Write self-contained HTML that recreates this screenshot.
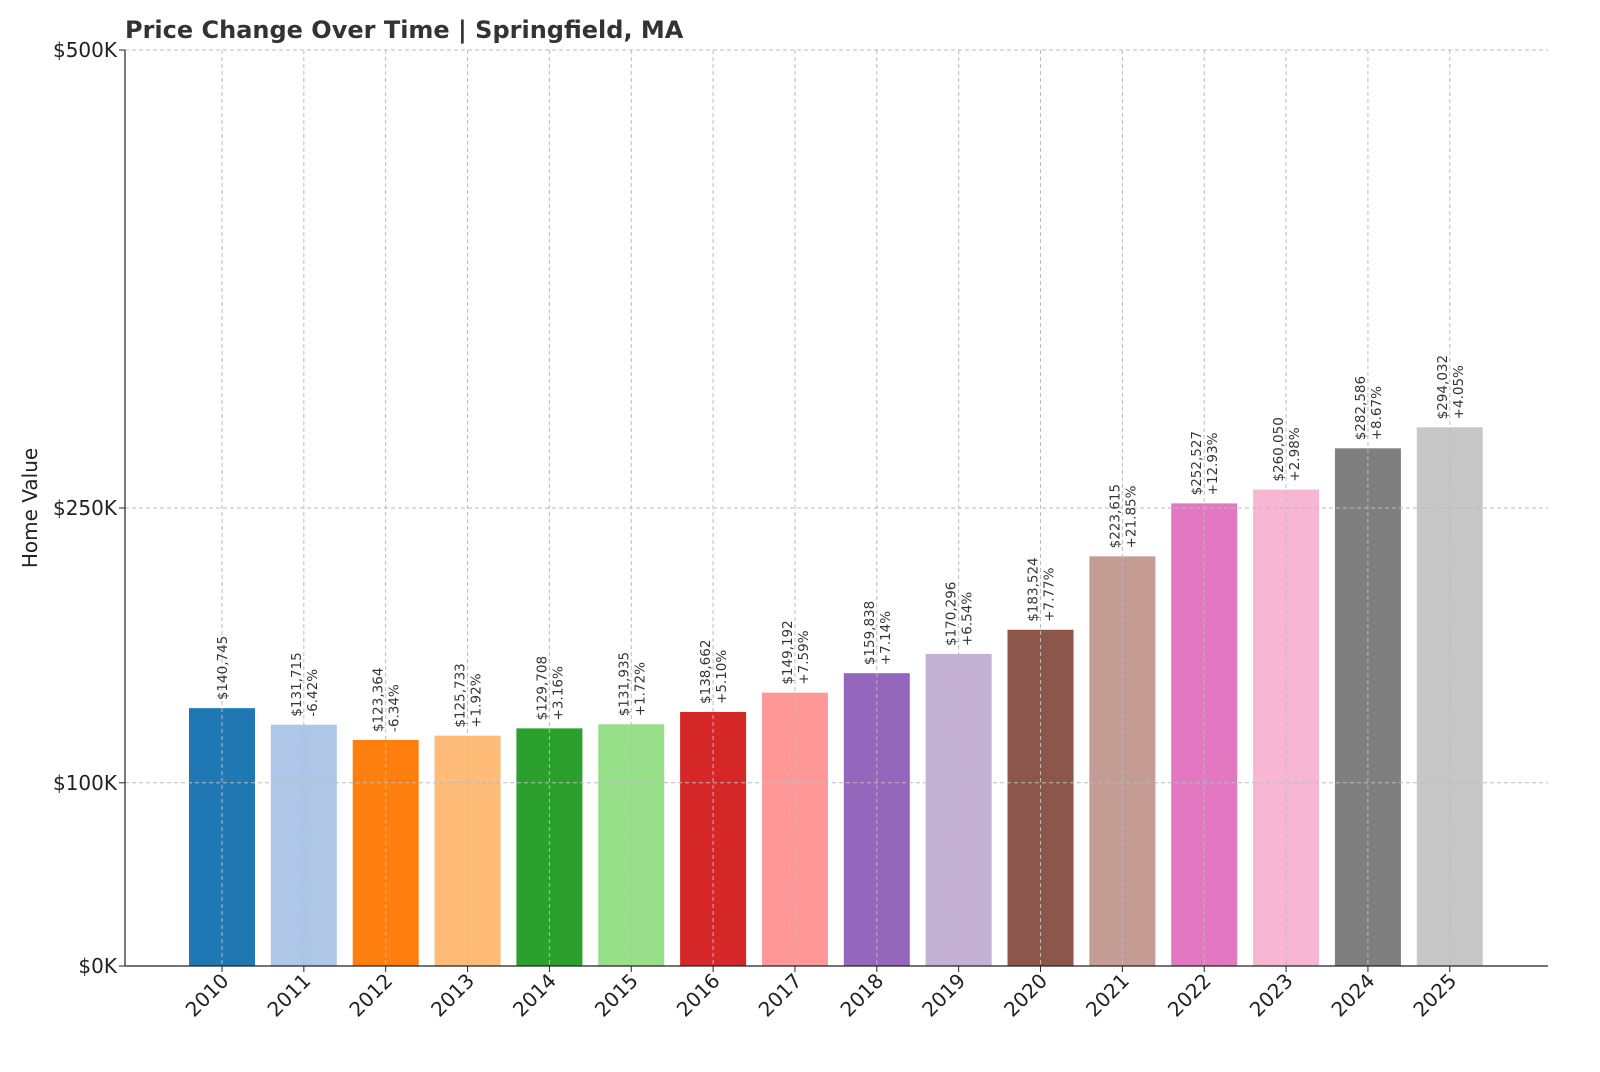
<!DOCTYPE html>
<html><head><meta charset="utf-8"><style>
body{margin:0;background:#fff;}
svg{font-family:"DejaVu Sans","Liberation Sans",sans-serif;}
</style></head><body>
<svg id="c" width="1600" height="1067">
<text x="125" y="38" font-size="24" font-weight="bold" fill="#333">Price Change Over Time | Springfield, MA</text>
<text transform="translate(37,508) rotate(-90)" text-anchor="middle" font-size="20" fill="#222">Home Value</text>
</svg>
<script>
const years=["2010","2011","2012","2013","2014","2015","2016","2017","2018","2019","2020","2021","2022","2023","2024","2025"];
const values=[140745,131715,123364,125733,129708,131935,138662,149192,159838,170296,183524,223615,252527,260050,282586,294032];
const pcts=["","-6.42%","-6.34%","+1.92%","+3.16%","+1.72%","+5.10%","+7.59%","+7.14%","+6.54%","+7.77%","+21.85%","+12.93%","+2.98%","+8.67%","+4.05%"];
const yTicks=[0,100000,250000,500000];
const yTickLabels=["$0K","$100K","$250K","$500K"];
const colors=["#1f77b4","#aec7e8","#ff7f0e","#ffbb78","#2ca02c","#98df8a","#d62728","#ff9896","#9467bd","#c5b0d5","#8c564b","#c49c94","#e377c2","#f7b6d2","#7f7f7f","#c7c7c7"];
const svg=document.getElementById('c');const NS="http://www.w3.org/2000/svg";
const L=125,R=1548,T=50,B=966,x0=-1.185,x1=16.2;
const xs=i=>L+(i-x0)/(x1-x0)*(R-L);
const ys=v=>B-v/500000*(B-T);
function mk(t,a,p){const e=document.createElementNS(NS,t);for(const k in a)e.setAttribute(k,a[k]);(p||svg).appendChild(e);return e;}
const bw=66/((R-L)/(x1-x0));
values.forEach((v,i)=>{
 const x=xs(i-bw/2),w=xs(i+bw/2)-x;
 const r=mk('rect',{x:x,y:ys(v),width:w,height:B-ys(v),fill:colors[i]});
 
});
yTicks.forEach((t,i)=>{
 const g=mk('line',{x1:L,x2:R,y1:ys(t),y2:ys(t),stroke:'#bbb','stroke-dasharray':'4,3','stroke-width':1});
 
 mk('line',{x1:L-6,x2:L,y1:ys(t),y2:ys(t),stroke:'#222'});
 const tx=mk('text',{x:L-8,y:ys(t)+7,'text-anchor':'end','font-size':20,fill:'#222'});tx.textContent=yTickLabels[i];
 
});
years.forEach((y,i)=>{
 const cx=xs(i);
 const g=mk('line',{x1:cx,x2:cx,y1:T,y2:B,stroke:'#bbb','stroke-dasharray':'4,3','stroke-width':1});
 
 mk('line',{x1:cx,x2:cx,y1:B,y2:B+6,stroke:'#222'});
 const tx=mk('text',{transform:`translate(${cx+8},${B+16}) rotate(-45)`,'text-anchor':'end','font-size':20,fill:'#222'});tx.textContent=y;
 
 const top=ys(values[i])-8;
 const two=pcts[i]!=="";
 const t1=mk('text',{transform:`translate(${cx+(two?-3:5)},${top}) rotate(-90)`,'font-size':13.5,fill:'#333'});
 t1.textContent='$'+values[i].toLocaleString('en-US');
 
 if(two){const t2=mk('text',{transform:`translate(${cx+13},${top}) rotate(-90)`,'font-size':13.5,fill:'#333'});t2.textContent=pcts[i];
 }
});
mk('line',{x1:L,x2:L,y1:T,y2:B,stroke:'#222','stroke-width':1.2});
mk('line',{x1:L,x2:R,y1:B,y2:B,stroke:'#222','stroke-width':1.2});
</script>
</body></html>
